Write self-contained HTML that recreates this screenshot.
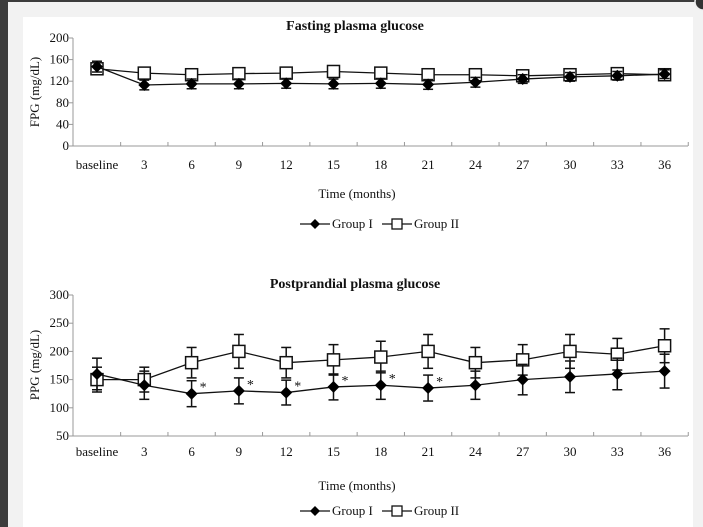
<!DOCTYPE html>
<html><head><meta charset="utf-8"><style>
html,body{margin:0;padding:0;width:703px;height:527px;overflow:hidden;background:#3a3a3a}
svg{position:absolute;left:0;top:0}
text{font-family:"Liberation Serif",serif;fill:#111}
</style></head><body>
<svg id="s" width="703" height="527" xmlns="http://www.w3.org/2000/svg">
<rect x="0" y="0" width="703" height="527" fill="#3c3c3c"/>
<rect x="8" y="2" width="695" height="525" fill="#f2f2f2"/>
<rect x="23" y="17" width="670" height="510" fill="#ffffff"/>
<circle cx="703" cy="2" r="8" fill="#333" stroke="#eee" stroke-width="1.5"/>
<text x="355" y="30" font-size="14" font-weight="bold" text-anchor="middle">Fasting plasma glucose</text>
<text x="355" y="288" font-size="14" font-weight="bold" text-anchor="middle">Postprandial plasma glucose</text>
<text x="357" y="198" font-size="13" text-anchor="middle">Time (months)</text>
<text x="357" y="490" font-size="13" text-anchor="middle">Time (months)</text>
<text transform="translate(39,92) rotate(-90)" font-size="13" text-anchor="middle">FPG (mg/dL)</text>
<text transform="translate(39,365) rotate(-90)" font-size="13" text-anchor="middle">PPG (mg/dL)</text>
<g id="g"></g>
</svg>
<script>
var g=document.getElementById('g'),NS='http://www.w3.org/2000/svg';
function el(t,a,txt){var e=document.createElementNS(NS,t);for(var k in a)e.setAttribute(k,a[k]);if(txt!=null)e.textContent=txt;g.appendChild(e);return e;}
var X=function(i){return 97+47.3*i;};
var labs=['baseline','3','6','9','12','15','18','21','24','27','30','33','36'];
function axes(y0,y1,ticks,Y,ly){
 el('line',{x1:73,y1:y1,x2:73,y2:y0,stroke:'#999'});
 el('line',{x1:73,y1:y0,x2:688,y2:y0,stroke:'#999'});
 ticks.forEach(function(v){var y=Y(v);el('line',{x1:69,y1:y,x2:73,y2:y,stroke:'#999'});el('text',{x:69,y:y+4,'font-size':13,'text-anchor':'end'},v);});
 for(var i=0;i<13;i++){var x=X(i)+23.65;el('line',{x1:x,y1:y0,x2:x,y2:y0-4,stroke:'#999'});el('text',{x:X(i),y:ly,'font-size':13,'text-anchor':'middle'},labs[i]);}
}
function series(d,e,Y,type){
 var p=d.map(function(v,i){return X(i)+','+Y(v);}).join(' ');
 el('polyline',{points:p,fill:'none',stroke:'#111','stroke-width':1.3});
 d.forEach(function(v,i){var x=X(i),a=Y(v-e[i]),b=Y(v+e[i]);
  el('line',{x1:x,y1:a,x2:x,y2:b,stroke:'#111','stroke-width':1.5});
  el('line',{x1:x-5,y1:a,x2:x+5,y2:a,stroke:'#111','stroke-width':1.5});
  el('line',{x1:x-5,y1:b,x2:x+5,y2:b,stroke:'#111','stroke-width':1.5});});
 d.forEach(function(v,i){var x=X(i),y=Y(v);
  if(type==0)el('polygon',{points:(x)+','+(y-6)+' '+(x+6)+','+y+' '+x+','+(y+6)+' '+(x-6)+','+y,fill:'#000'});
  else el('rect',{x:x-6,y:y-6,width:12,height:12,fill:'#fff',stroke:'#111','stroke-width':1.5});});
}
function legend(y){
 el('line',{x1:300,y1:y,x2:330,y2:y,stroke:'#111','stroke-width':1.3});
 el('polygon',{points:'315,'+(y-5)+' 320,'+y+' 315,'+(y+5)+' 310,'+y,fill:'#000'});
 el('text',{x:332,y:y+4,'font-size':13},'Group I');
 el('line',{x1:382,y1:y,x2:412,y2:y,stroke:'#111','stroke-width':1.3});
 el('rect',{x:392,y:y-5,width:10,height:10,fill:'#fff',stroke:'#111','stroke-width':1.3});
 el('text',{x:414,y:y+4,'font-size':13},'Group II');
}
var Y1=function(v){return 146-0.54*v;};
axes(146,38,[0,40,80,120,160,200],Y1,169);
series([143,135,132,134,135,138,135,132,132,130,132,134,132],[9,9,8,8,8,8,9,8,8,8,8,8,8],Y1,1);
series([147,113,115,115,116,115,116,114,118,124,128,130,133],[10,9,9,9,9,9,9,9,9,8,8,8,8],Y1,0);
legend(224);
var Y2=function(v){return 436-0.564*(v-50);};
axes(436,295,[50,100,150,200,250,300],Y2,456);
series([150,150,180,200,180,185,190,200,180,185,200,195,210],[22,22,27,30,27,27,28,30,27,27,30,28,30],Y2,1);
series([160,140,125,130,127,137,140,135,140,150,155,160,165],[28,25,23,23,22,23,25,23,25,27,28,28,30],Y2,0);
[2,3,4,5,6,7].forEach(function(i){var v=[0,0,125,130,127,137,140,135][i];el('text',{x:X(i)+8,y:Y2(v)-2,'font-size':14},'*');});
legend(511);
</script>
</body></html>
